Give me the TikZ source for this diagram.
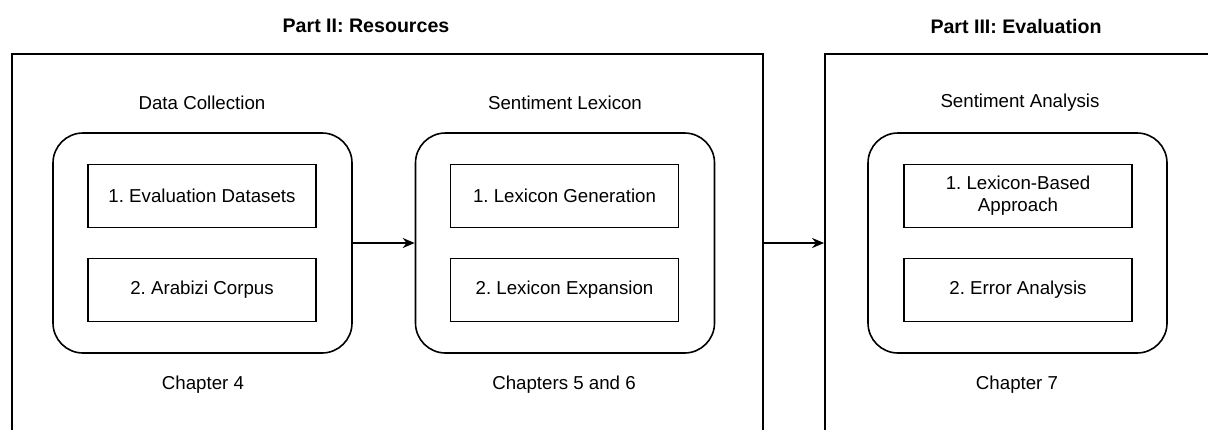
\documentclass[tikz,border=0pt]{standalone}
\usepackage{fontspec}
\setmainfont{Liberation Sans}
\usetikzlibrary{arrows.meta}
\tikzset{>={Stealth[length=6pt,width=5pt]}}
\tikzset{
  partbox/.style={draw,line width=0.9pt,minimum width=#1,minimum height=193pt},
  groupbox/.style={draw,line width=0.8pt,rounded corners=15pt,minimum width=149.5pt,minimum height=110pt},
  itembox/.style={draw,line width=0.9pt,minimum width=114pt,minimum height=31.5pt,align=center},
  parttitle/.style={font=\fontsize{9.8}{11}\selectfont\bfseries}
}
\frenchspacing

\begin{document}
\begin{tikzpicture}[x=0.5pt,y=-0.5pt,font=\fontsize{9.35}{11}\selectfont]
    \clip (0,0) rectangle (1208,429);
    % parts
    \node[partbox=375.5pt] (resources) at (387.5,247) {};
    \node[partbox=197.5pt] (evaluation) at (1022.5,247) {};
    \node[parttitle] (resourcesTitle) at (366,26) {Part II: Resources};
    \node[parttitle] (evaluationTitle) at (1016,26) {Part III: Evaluation};
    % groups
    \node[groupbox] (collection) at (202.5,243) {};
    \node[groupbox] (lexicon) at (565,243) {};
    \node[groupbox] (analysis) at (1017.5,243) {};
    \node (collectionLbl) at (202,103) {Data Collection};
    \node (lexiconLbl) at (565,103) {Sentiment Lexicon};
    \node (analysisLbl) at (1020,103) {Sentiment Analysis};
    \node (collectionCh) at (203,385) {Chapter 4};
    \node (lexiconCh) at (564,385) {Chapters 5 and 6};
    \node (analysisCh) at (1017,385) {Chapter 7};
    % items
    \node[itembox] (datasets) at (202,196) {1. Evaluation Datasets};
    \node[itembox] (corpus) at (202,290) {2. Arabizi Corpus};
    \node[itembox] (generation) at (564.5,196) {1. Lexicon Generation};
    \node[itembox] (expansion) at (564.5,290) {2. Lexicon Expansion};
    \node[itembox] (lexbased) at (1018,196) {1. Lexicon-Based\\Approach};
    \node[itembox] (errors) at (1018,290) {2. Error Analysis};
    % arrows
    \draw[->,line width=0.9pt] (collection) -- (lexicon);
    \draw[->,line width=0.9pt] (lexicon.east -| resources.east) -- (lexicon.east -| evaluation.west);
\end{tikzpicture}
\end{document}
